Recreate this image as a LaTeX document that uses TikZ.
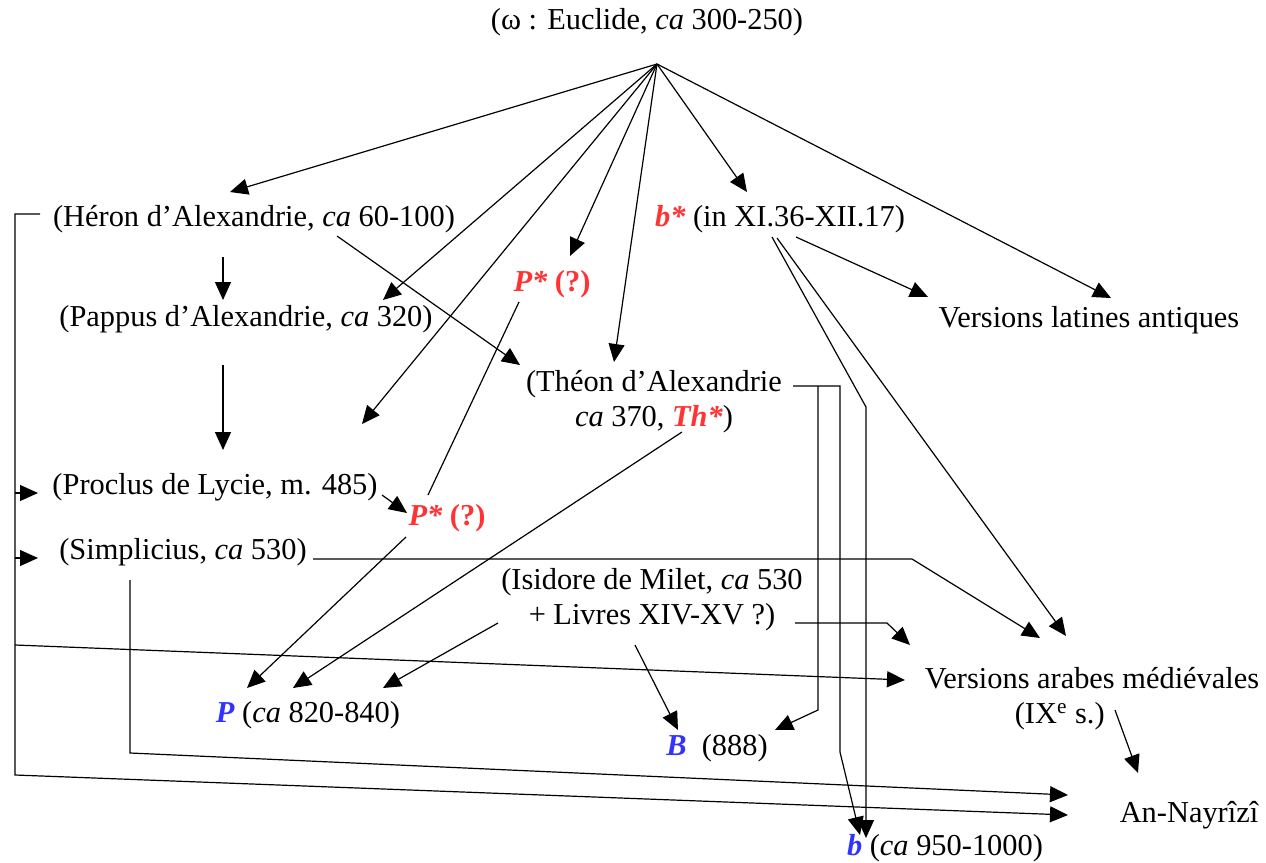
\documentclass[tikz,border=0pt]{standalone}
\usepackage{fontspec}
\setmainfont{Liberation Serif}
\usetikzlibrary{arrows.meta,calc}
\definecolor{redc}{RGB}{255,51,51}
\definecolor{bluec}{RGB}{51,51,255}
\newcommand\redst[1]{\textcolor{redc}{\bfseries\itshape #1}}
\newcommand\bluest[1]{\textcolor{bluec}{\bfseries\itshape #1}}
\begin{document}
\begin{tikzpicture}[x=0.5pt,y=-0.5pt,
  every node/.style={inner sep=0pt,align=center,font=\fontsize{15.2pt}{17.5pt}\selectfont},
  conn/.style={line width=0.6pt},
  arr/.style={conn,-{Triangle[length=9pt,width=8pt]}}]
\useasboundingbox (0,0) rectangle (1266,863);
% nodes
\node (euclide) at (647,22) {(ω : Euclide, \textit{ca} 300-250)};
\coordinate (apex) at (657,64);
\node (heron) at (254,219) {(Héron d'Alexandrie, \textit{ca} 60-100)};
\node (pappus) at (246,319) {(Pappus d'Alexandrie, \textit{ca} 320)};
\node (pstarA) at (552,284) {\redst{P*} \textcolor{redc}{\bfseries (?)}};
\node (theon) at (654,402) {(Théon d'Alexandrie\\\textit{ca} 370, \redst{Th*})};
\node (bstar) at (780,219) {\redst{b*} (in XI.36-XII.17)};
\node (vlat) at (1089,320) {Versions latines antiques};
\node (proclus) at (215,487) {(Proclus de Lycie, m. 485)};
\node (pstarB) at (447,518) {\redst{P*} \textcolor{redc}{\bfseries (?)}};
\node (simplicius) at (183,552) {(Simplicius, \textit{ca} 530)};
\node (isidore) at (652,600) {(Isidore de Milet, \textit{ca} 530\\+ Livres XIV-XV ?)};
\node[align=left] (varab) at (1092,699) {Versions arabes médiévales\\\hspace*{45pt}(IX\textsuperscript{e} s.)};
\node (P) at (308,715) {\bluest{P} (\textit{ca} 820-840)};
\node (B) at (717,748) {\bluest{B}\ \ (888)};
\node (nayrizi) at (1189,815) {An-Nayrîzî};
\node (bsmall) at (945,848) {\bluest{b} (\textit{ca} 950-1000)};
% from Euclide
\draw[arr] (apex) -- ($(heron)+(-24,-27)$);
\draw[arr] (apex) -- ($(pappus)+(137,-19)$);
\draw[arr] (apex) -- ($(proclus)+(147,-63)$);
\draw[arr] (apex) -- ($(pstarA)+(18,-28)$);
\draw[arr] (apex) -- ($(theon)+(-40,-40)$);
\draw[arr] (apex) -- ($(bstar)+(-33,-27)$);
\draw[arr] (apex) -- ($(vlat)+(22,-22)$);
% Heron
\draw[arr] ($(heron)+(83,17)$) -- ($(theon)+(-134,-37)$);
\draw[arr] ($(heron)+(-31,38)$) -- ($(pappus)+(-23,-19)$);
\draw[arr] ($(heron)+(-214,-5)$) -- ++(-25,0) -- ++(0,561) -- ($(nayrizi)+(-121,0)$);
\draw[arr] ($(proclus)+(-200,6)$) -- ($(proclus)+(-177,6)$);
\draw[arr] ($(simplicius)+(-168,6)$) -- ($(simplicius)+(-145,6)$);
\draw[arr] ($(varab)+(-1077,-54)$) -- ($(varab)+(-187,-19)$);
% Pappus
\draw[arr] ($(pappus)+(-23,46)$) -- ($(proclus)+(8,-37)$);
% Proclus, P*
\draw[arr] ($(proclus)+(167,8)$) -- ($(pstarB)+(-40,-5)$);
\draw[conn] ($(pstarA)+(-33,18)$) -- ($(pstarB)+(-19,-23)$);
\draw[arr] ($(pstarB)+(-41,19)$) -- ($(P)+(-61,-27)$);
% Simplicius
\draw[arr] ($(simplicius)+(130,7)$) -- ++(599,0) -- ($(varab)+(-52,-61)$);
\draw[arr] ($(simplicius)+(-53,28)$) -- ++(0,173) -- ($(nayrizi)+(-121,-20)$);
% Theon
\draw[arr] ($(theon)+(28,30)$) -- ($(P)+(-15,-27)$);
\draw[arr] ($(theon)+(139,-16)$) -- ++(47,0) -- ++(0,366) -- ($(bsmall)+(-85,-13)$);
\draw[arr] ($(theon)+(164,-16)$) -- ++(0,324) -- ($(B)+(58,-18)$);
% Isidore
\draw[arr] ($(isidore)+(-154,23)$) -- ($(P)+(75,-27)$);
\draw[arr] ($(isidore)+(-17,45)$) -- ($(B)+(-39,-18)$);
\draw[arr] ($(isidore)+(143,23)$) -- ++(92,0) -- ($(varab)+(-182,-54)$);
% b*
\draw[arr] ($(bstar)+(-8,18)$) -- ++(94,170) -- ($(bsmall)+(-79,-10)$);
\draw[arr] ($(bstar)+(-3,19)$) -- ($(varab)+(-26,-63)$);
\draw[arr] ($(bstar)+(16,18)$) -- ($(vlat)+(-161,-23)$);
% Versions arabes
\draw[arr] ($(varab)+(23,11)$) -- ($(nayrizi)+(-51,-42)$);
\end{tikzpicture}
\end{document}
